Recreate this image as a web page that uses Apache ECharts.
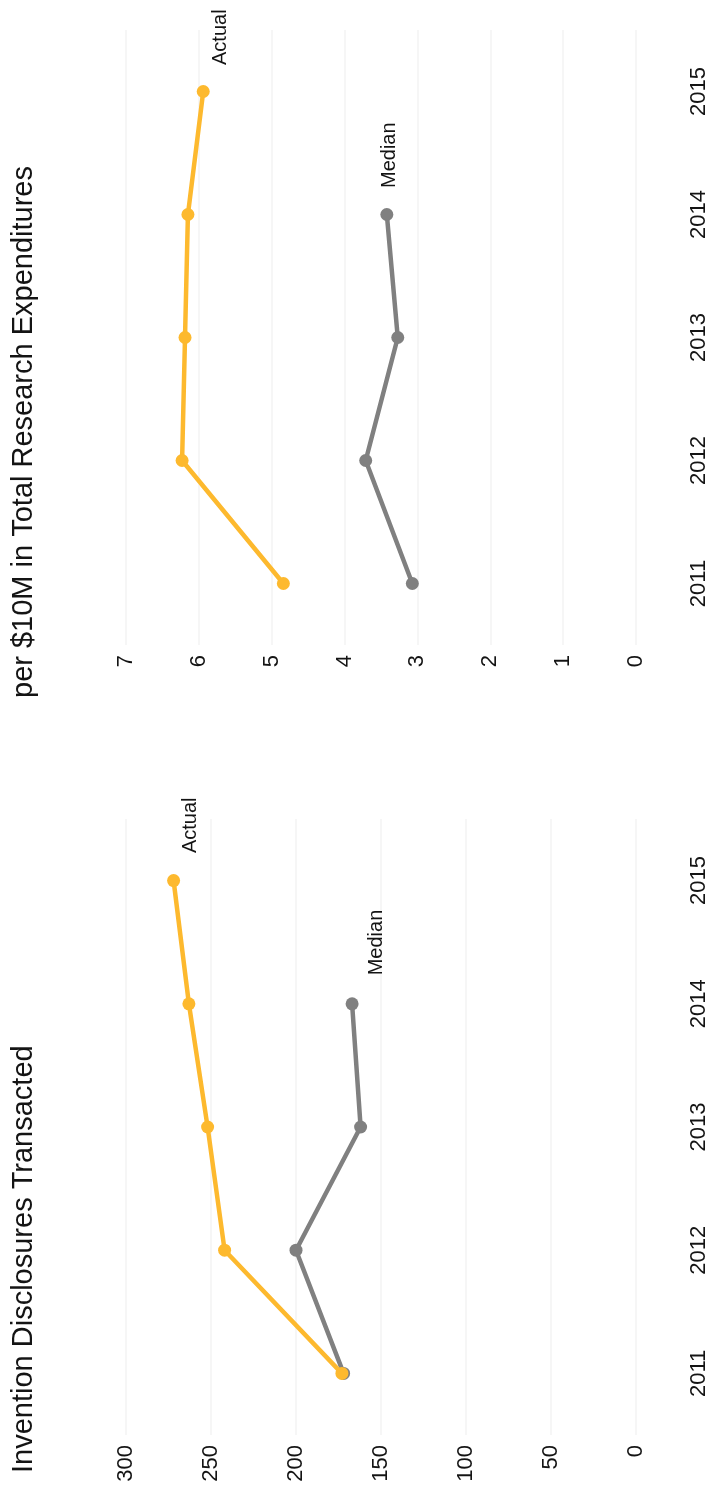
<!DOCTYPE html>
<html>
<head>
<meta charset="utf-8">
<script src="https://cdn.jsdelivr.net/npm/echarts@6/dist/echarts.min.js"></script>
<style>
  html, body { margin: 0; padding: 0; background: #ffffff; overflow: hidden; }
  #chart { width: 722px; height: 1501px; }
</style>
</head>
<body>
<div id="chart"></div>
<script>
// Fiscal years shown on the category axis
const years = ['2011', '2012', '2013', '2014', '2015'];

// Invention disclosures transacted
const disclosureTicks = [0, 50, 100, 150, 200, 250, 300];
const disclosuresActual = [173, 242, 252, 263, 272];
const disclosuresMedian = [172, 200, 162, 167];

// Disclosures per $10M in total research expenditures
const perTenMTicks = [0, 1, 2, 3, 4, 5, 6, 7];
const perTenMActual = [4.84, 6.23, 6.19, 6.15, 5.94];
const perTenMMedian = [3.07, 3.71, 3.27, 3.42];

const titleDisclosures = 'Invention Disclosures Transacted';
const titlePerTenM = 'per $10M in Total Research Expenditures';
const nameActual = 'Actual';
const nameMedian = 'Median';

const FONT = '"Liberation Sans", Arial, Helvetica, sans-serif';
const GOLD = '#FDB92E';
const GREY = '#808080';
const INK = '#141414';

// The page is laid out sideways: values run right-to-left, years bottom-to-top.
function valueAxis(gridIndex, ticks) {
  return {
    type: 'value', gridIndex, inverse: true, position: 'bottom',
    min: ticks[0], max: ticks[ticks.length - 1], interval: ticks[1] - ticks[0],
    axisLine: { show: false }, axisTick: { show: false },
    splitLine: { show: true, lineStyle: { color: '#f6f6f6', width: 2 } },
    axisLabel: { rotate: 90, margin: 10, fontSize: 22, color: INK, fontFamily: FONT }
  };
}
function yearAxis(gridIndex) {
  return {
    type: 'category', gridIndex, position: 'right', data: years, boundaryGap: true,
    axisLine: { show: false }, axisTick: { show: false }, splitLine: { show: false },
    axisLabel: { rotate: 90, margin: 52, fontSize: 22, color: INK, fontFamily: FONT }
  };
}
function lineSeries(values, name, color, axisIndex, labelPos, z) {
  return {
    type: 'line', name, xAxisIndex: axisIndex, yAxisIndex: axisIndex, z,
    symbol: 'circle', symbolSize: 13, animation: false,
    lineStyle: { color, width: 4.5 }, itemStyle: { color },
    data: values.map((v, i) => {
      const item = { value: [v, years[i]] };
      if (i === values.length - 1) {
        item.label = {
          show: true, formatter: name, position: labelPos, rotate: 90,
          align: 'left', verticalAlign: 'middle',
          fontSize: 20, color: INK, fontFamily: FONT
        };
      }
      return item;
    })
  };
}

const chart = echarts.init(document.getElementById('chart'), null, { renderer: 'canvas' });
chart.setOption({
  backgroundColor: '#ffffff',
  animation: false,
  grid: [
    { left: 126, right: 86, top: 30, height: 615 },
    { left: 126, right: 86, top: 819, height: 616 }
  ],
  xAxis: [valueAxis(0, perTenMTicks), valueAxis(1, disclosureTicks)],
  yAxis: [yearAxis(0), yearAxis(1)],
  series: [
    lineSeries(perTenMMedian, nameMedian, GREY, 0, [9, -20], 2),
    lineSeries(perTenMActual, nameActual, GOLD, 0, [24, -20], 3),
    lineSeries(disclosuresMedian, nameMedian, GREY, 1, [31, -22], 2),
    lineSeries(disclosuresActual, nameActual, GOLD, 1, [23, -21], 3)
  ],
  graphic: [
    { type: 'text', x: 24, y: 698, rotation: Math.PI / 2,
      style: { text: titlePerTenM, fontSize: 29, fill: INK, fontFamily: FONT, align: 'left', verticalAlign: 'middle' } },
    { type: 'text', x: 24, y: 1473, rotation: Math.PI / 2,
      style: { text: titleDisclosures, fontSize: 29, fill: INK, fontFamily: FONT, align: 'left', verticalAlign: 'middle' } }
  ]
});
</script>
</body>
</html>
